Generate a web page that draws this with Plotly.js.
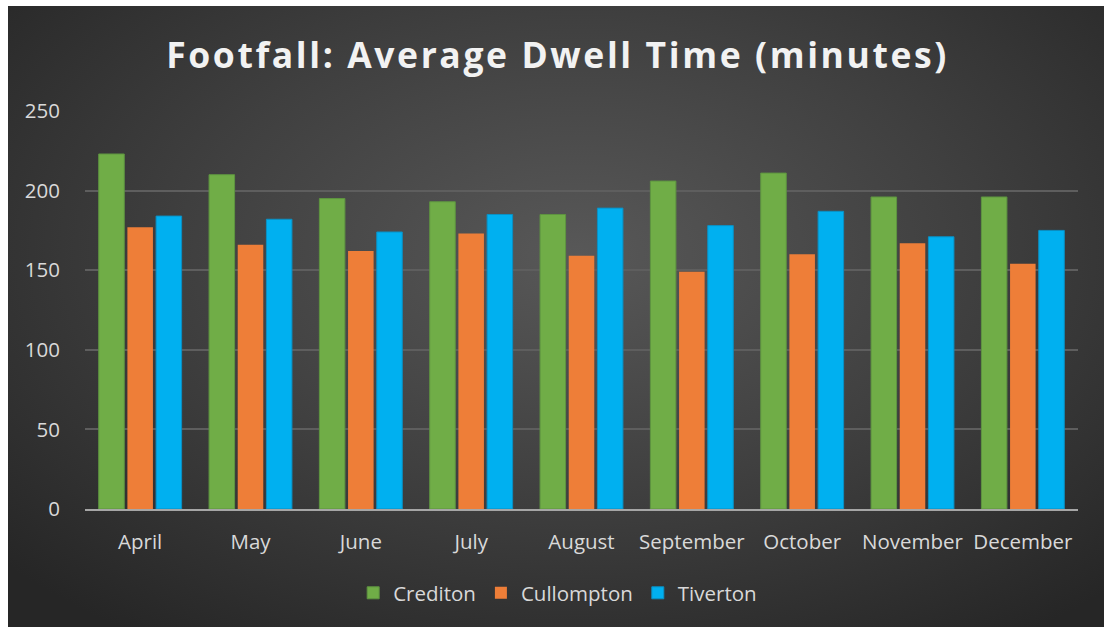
<!DOCTYPE html>
<html>
<head>
<meta charset="utf-8">
<script src="https://cdn.plot.ly/plotly-3.0.1.min.js"></script>
<style>
  html, body { margin: 0; padding: 0; background: #ffffff; }
  #bg { position: absolute; left: 8px; top: 6px; width: 1096px; height: 621px;
        background: radial-gradient(ellipse 70% 75% at 52% 40%, #585858 0%, #404040 50%, #262626 100%); }
  #chart { position: absolute; left: 0; top: 0; width: 1104px; height: 627px; }
  #chart .gtitle { letter-spacing: 2.6px; }
</style>
</head>
<body>
<div id="bg"></div>
<div id="chart"></div>
<script>
const months = ["April","May","June","July","August","September","October","November","December"];
const crediton = [223, 210, 195, 193, 185, 206, 211, 196, 196];
const cullompton = [177, 166, 162, 173, 159, 149, 160, 167, 154];
const tiverton = [184, 182, 174, 185, 189, 178, 187, 171, 175];
const yTicks = [0, 50, 100, 150, 200, 250];

const font = "'Open Sans', 'Noto Sans', sans-serif";
const traces = [
  {type:'bar', name:'Crediton', x:months, y:crediton,
   marker:{color:'#70AD47', line:{color:'#5E9440', width:1}}},
  {type:'bar', name:'Cullompton', x:months, y:cullompton,
   marker:{color:'#EE7E38', line:{color:'#EE7E38', width:0}}},
  {type:'bar', name:'Tiverton', x:months, y:tiverton,
   marker:{color:'#00B0F0', line:{color:'#0A90C4', width:1}}}
];

const layout = {
  width:1104, height:627,
  paper_bgcolor:'rgba(0,0,0,0)', plot_bgcolor:'rgba(0,0,0,0)',
  margin:{l:85, r:26, t:111, b:118},
  barmode:'group', bargap:0.22, bargroupgap:0.11,
  title:{text:'<b>Footfall: Average Dwell Time (minutes)</b>', x:0.505, xanchor:'center', y:0.912, yanchor:'middle',
         font:{family:font, size:35.5, color:'#F2F2F2'}},
  font:{family:font, color:'#D9D9D9', size:20.5},
  xaxis:{tickfont:{family:font, size:20.5, color:'#D9D9D9'}, ticks:'outside', ticklen:13, tickcolor:'rgba(0,0,0,0)',
         showline:true, linecolor:'#A6A6A6', linewidth:2, showgrid:false},
  yaxis:{range:[0,250], tickvals:yTicks, ticktext:yTicks.map(String), tickfont:{family:font, size:20.5, color:'#D9D9D9'},
         ticks:'outside', ticklen:20, tickcolor:'rgba(0,0,0,0)',
         showgrid:true, gridcolor:'#5E5E5E', gridwidth:2, zeroline:false, showline:false},
  legend:{orientation:'h', x:0.476, xanchor:'center', y:-0.211, yanchor:'middle',
          font:{family:font, size:20.5, color:'#D9D9D9'}, itemclick:false, traceorder:'normal'},
  showlegend:true
};

Plotly.newPlot('chart', traces, layout, {displayModeBar:false, staticPlot:true});
</script>
</body>
</html>
